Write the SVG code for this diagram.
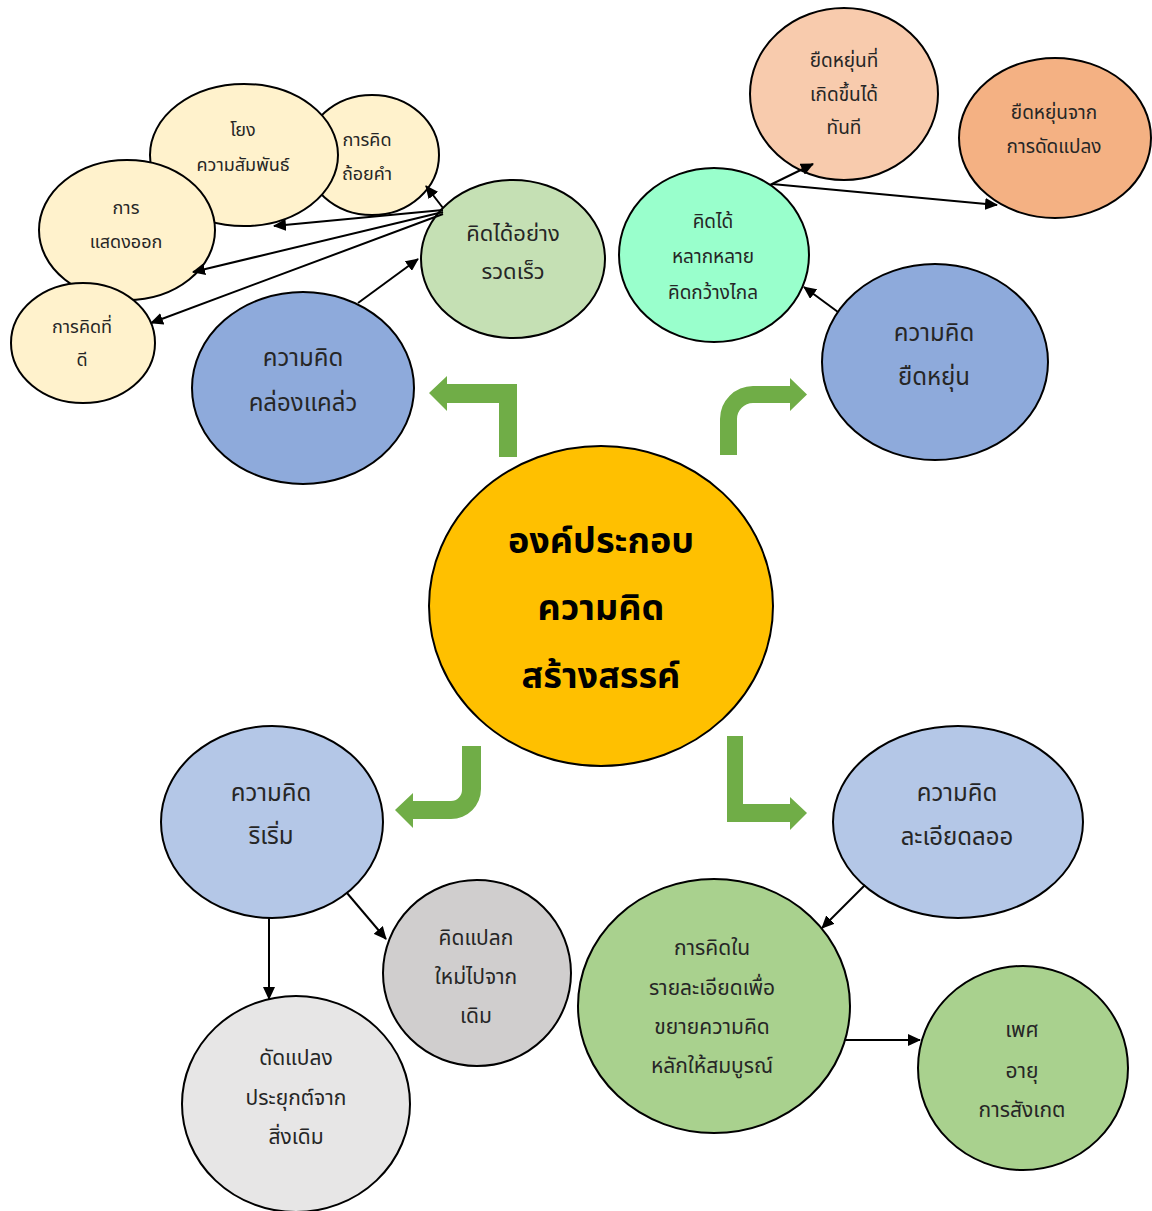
<svg xmlns="http://www.w3.org/2000/svg" width="1152" height="1211" viewBox="0 0 1152 1211">
<style>
.n{stroke:#000;stroke-width:2}
.t{font-family:"Noto Sans Thai","Tahoma","Noto Sans","DejaVu Sans",sans-serif;fill:#262626;text-anchor:middle}
.c{font-family:"Noto Sans Thai","Tahoma","Noto Sans","DejaVu Sans",sans-serif;fill:#000;text-anchor:middle;font-weight:bold;font-size:36px}
.l{stroke:#000;stroke-width:2;fill:none;marker-end:url(#ah)}
.g{fill:#70AD47}
</style>
<defs>
<marker id="ah" markerUnits="userSpaceOnUse" markerWidth="13" markerHeight="12" refX="12" refY="6" orient="auto" viewBox="0 0 13 12">
<path d="M0,0 L13,6 L0,12 z" fill="#000"/>
</marker>
</defs>
<rect width="1152" height="1211" fill="#fff"/>

<g id="center">
<ellipse class="n" cx="601" cy="606" rx="172" ry="160" fill="#FFC000"/>
<text class="c" x="601" y="553">องค์ประกอบ</text>
<text class="c" x="601" y="620">ความคิด</text>
<text class="c" x="601" y="688">สร้างสรรค์</text>
</g>

<g id="fluency">
<ellipse class="n" cx="303" cy="388" rx="111" ry="96" fill="#8EAADB"/>
<text class="t" x="303" y="366" font-size="24">ความคิด</text>
<text class="t" x="303" y="411" font-size="24">คล่องแคล่ว</text>
</g>

<g id="fast">
<ellipse class="n" cx="513" cy="259" rx="92" ry="79" fill="#C5E0B4"/>
<text class="t" x="513" y="241" font-size="22">คิดได้อย่าง</text>
<text class="t" x="513" y="279" font-size="22">รวดเร็ว</text>
</g>

<g id="words">
<ellipse class="n" cx="372" cy="155" rx="67" ry="60" fill="#FFF2CC"/>
<text class="t" x="367" y="146" font-size="18">การคิด</text>
<text class="t" x="367" y="180" font-size="18">ถ้อยคำ</text>
</g>

<g id="relation">
<ellipse class="n" cx="244" cy="155" rx="94" ry="71" fill="#FFF2CC"/>
<text class="t" x="243" y="136" font-size="18">โยง</text>
<text class="t" x="243" y="171" font-size="18">ความสัมพันธ์</text>
</g>

<g id="express">
<ellipse class="n" cx="127" cy="230" rx="88" ry="70" fill="#FFF2CC"/>
<text class="t" x="126" y="214" font-size="18">การ</text>
<text class="t" x="126" y="248" font-size="18">แสดงออก</text>
</g>

<g id="goodthink">
<ellipse class="n" cx="83" cy="343" rx="72" ry="60" fill="#FFF2CC"/>
<text class="t" x="82" y="333" font-size="18">การคิดที่</text>
<text class="t" x="82" y="366" font-size="18">ดี</text>
</g>

<g id="variety">
<ellipse class="n" cx="714" cy="255" rx="95" ry="87" fill="#99FFCC"/>
<text class="t" x="713" y="228" font-size="19">คิดได้</text>
<text class="t" x="713" y="263" font-size="19">หลากหลาย</text>
<text class="t" x="713" y="299" font-size="19">คิดกว้างไกล</text>
</g>

<g id="instant">
<ellipse class="n" cx="844" cy="94" rx="94" ry="86" fill="#F8CBAD"/>
<text class="t" x="844" y="67" font-size="19">ยืดหยุ่นที่</text>
<text class="t" x="844" y="101" font-size="19">เกิดขึ้นได้</text>
<text class="t" x="844" y="134" font-size="19">ทันที</text>
</g>

<g id="adapt">
<ellipse class="n" cx="1055" cy="138" rx="96" ry="80" fill="#F4B183"/>
<text class="t" x="1054" y="119" font-size="19">ยืดหยุ่นจาก</text>
<text class="t" x="1054" y="153" font-size="19">การดัดแปลง</text>
</g>

<g id="flexibility">
<ellipse class="n" cx="935" cy="362" rx="113" ry="98" fill="#8EAADB"/>
<text class="t" x="934" y="341" font-size="24">ความคิด</text>
<text class="t" x="934" y="385" font-size="24">ยืดหยุ่น</text>
</g>

<g id="originality">
<ellipse class="n" cx="272" cy="822" rx="111" ry="96" fill="#B4C7E7"/>
<text class="t" x="271" y="801" font-size="24">ความคิด</text>
<text class="t" x="271" y="844" font-size="24">ริเริ่ม</text>
</g>

<g id="novel">
<ellipse class="n" cx="477" cy="973" rx="94" ry="93" fill="#D0CECE"/>
<text class="t" x="476" y="945" font-size="21">คิดแปลก</text>
<text class="t" x="476" y="984" font-size="21">ใหม่ไปจาก</text>
<text class="t" x="476" y="1023" font-size="21">เดิม</text>
</g>

<g id="modify">
<ellipse class="n" cx="296" cy="1104" rx="114" ry="108" fill="#E7E6E6"/>
<text class="t" x="296" y="1065" font-size="21">ดัดแปลง</text>
<text class="t" x="296" y="1105" font-size="21">ประยุกต์จาก</text>
<text class="t" x="296" y="1144" font-size="21">สิ่งเดิม</text>
</g>

<g id="elaboration">
<ellipse class="n" cx="958" cy="822" rx="125" ry="96" fill="#B4C7E7"/>
<text class="t" x="957" y="801" font-size="24">ความคิด</text>
<text class="t" x="957" y="845" font-size="24">ละเอียดลออ</text>
</g>

<g id="detail">
<ellipse class="n" cx="714" cy="1006" rx="136" ry="127" fill="#A9D18E"/>
<text class="t" x="712" y="955" font-size="21">การคิดใน</text>
<text class="t" x="712" y="995" font-size="21">รายละเอียดเพื่อ</text>
<text class="t" x="712" y="1034" font-size="21">ขยายความคิด</text>
<text class="t" x="712" y="1073" font-size="21">หลักให้สมบูรณ์</text>
</g>

<g id="factors">
<ellipse class="n" cx="1023" cy="1068" rx="105" ry="102" fill="#A9D18E"/>
<text class="t" x="1022" y="1037" font-size="21">เพศ</text>
<text class="t" x="1022" y="1078" font-size="21">อายุ</text>
<text class="t" x="1022" y="1117" font-size="21">การสังเกต</text>
</g>

<g id="connectors">
<line class="l" x1="443" y1="208" x2="426" y2="186"/>
<line class="l" x1="443" y1="210" x2="274" y2="226"/>
<line class="l" x1="443" y1="212" x2="193" y2="272"/>
<line class="l" x1="443" y1="214" x2="151" y2="323"/>
<line class="l" x1="358" y1="303" x2="418" y2="259"/>
<line class="l" x1="838" y1="312" x2="804" y2="287"/>
<line class="l" x1="770" y1="185" x2="813" y2="164"/>
<line class="l" x1="772" y1="184" x2="997" y2="205"/>
<line class="l" x1="269" y1="918" x2="269" y2="999"/>
<line class="l" x1="347" y1="893" x2="386" y2="939"/>
<line class="l" x1="865" y1="885" x2="822" y2="928"/>
<line class="l" x1="845" y1="1040" x2="920" y2="1040"/>
<path class="g" d="M499,457 L499,403 L447,403 L447,411 L429,393 L447,376 L447,384 L517,384 L517,457 Z"/>
<path class="g" d="M720,455 L720,419 A33,33 0 0 1 753,386 L790,386 L790,378 L807,394.5 L790,411 L790,403 L753,403 A16,16 0 0 0 737,419 L737,455 Z"/>
<path class="g" d="M462,746 L481,746 L481,789 A30,30 0 0 1 451,819 L413,819 L413,828 L395,810 L413,793 L413,801 L451,801 A11,11 0 0 0 462,790 Z"/>
<path class="g" d="M727,736 L743,736 L743,804 L790,804 L790,797 L807,813 L790,830 L790,822 L727,822 Z"/>
</g>
</svg>
